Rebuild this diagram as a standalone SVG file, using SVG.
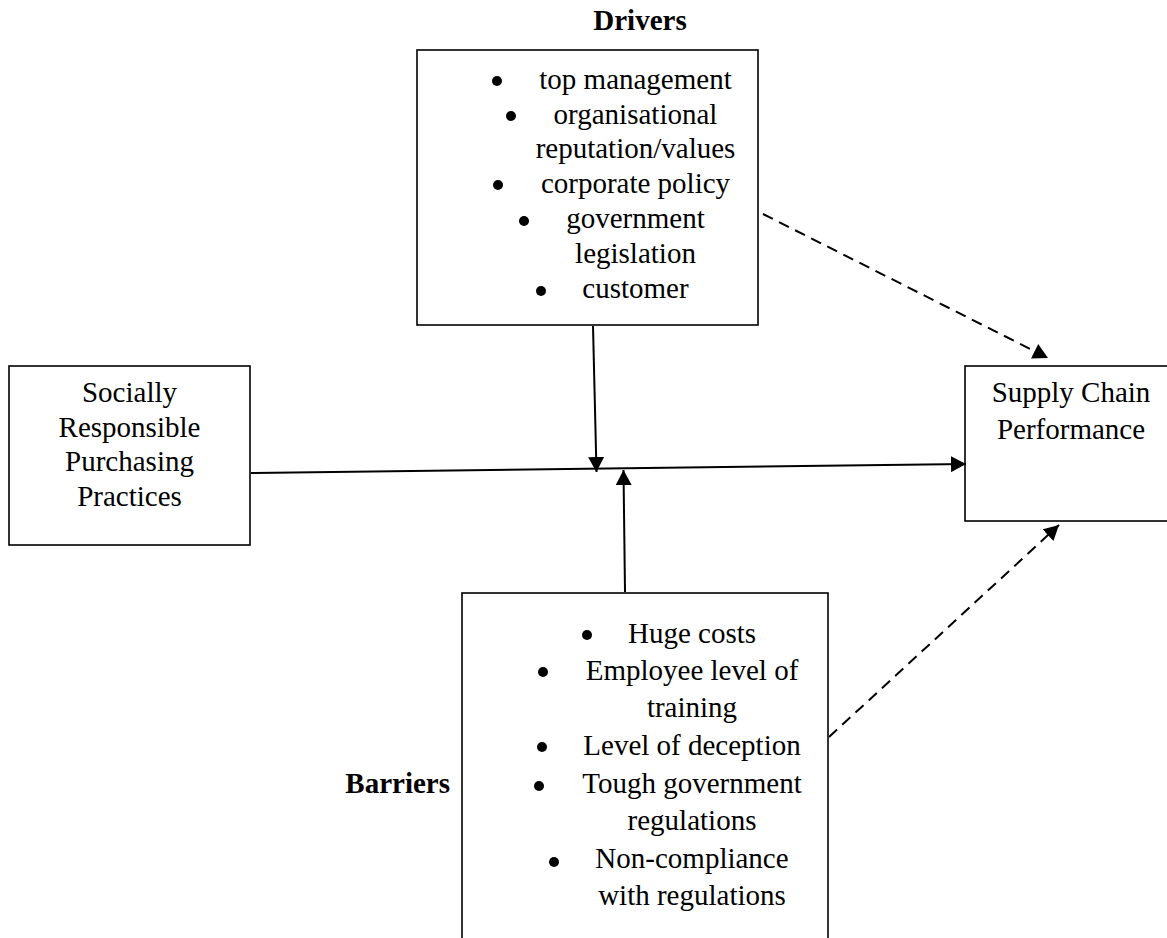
<svg xmlns="http://www.w3.org/2000/svg" width="1167" height="938" viewBox="0 0 1167 938">
<style>
.box{fill:#fff;stroke:#000;stroke-width:1.6}
.t{font-family:"Liberation Serif","Times New Roman",serif;font-size:29px;fill:#000;text-anchor:middle}
.b{font-family:"Liberation Serif","Times New Roman",serif;font-size:29px;font-weight:bold;fill:#000}
.ln{stroke:#000;stroke-width:2;fill:none}
.dash{stroke-dasharray:11,7}
.dot{fill:#000}
</style>
<defs>
<marker id="ah" markerUnits="userSpaceOnUse" markerWidth="16" markerHeight="16" refX="15" refY="8" orient="auto">
<polygon points="0,0 15,8 0,16" fill="#000"/>
</marker>
</defs>
<rect width="1167" height="938" fill="#fff"/>

<g id="drivers">
<text class="b" x="640" y="30" text-anchor="middle">Drivers</text>
<rect class="box" x="417" y="50" width="341" height="275"/>
<circle class="dot" cx="497" cy="81" r="5"/>
<text class="t" x="635.5" y="89">top management</text>
<circle class="dot" cx="511" cy="116" r="5"/>
<text class="t" x="635.5" y="124">organisational</text>
<text class="t" x="635.5" y="158">reputation/values</text>
<circle class="dot" cx="498" cy="185" r="5"/>
<text class="t" x="635.5" y="193">corporate policy</text>
<circle class="dot" cx="524" cy="221" r="5"/>
<text class="t" x="635.5" y="228">government</text>
<text class="t" x="635.5" y="263">legislation</text>
<circle class="dot" cx="541" cy="291" r="5"/>
<text class="t" x="635.5" y="298">customer</text>
</g>

<g id="srpp">
<rect class="box" x="9" y="366" width="241" height="179"/>
<text class="t" x="129.5" y="402">Socially</text>
<text class="t" x="129.5" y="437">Responsible</text>
<text class="t" x="129.5" y="471">Purchasing</text>
<text class="t" x="129.5" y="506">Practices</text>
</g>

<g id="scp">
<rect class="box" x="965" y="366" width="230" height="155"/>
<text class="t" x="1071" y="402">Supply Chain</text>
<text class="t" x="1071" y="439">Performance</text>
</g>

<g id="barriers">
<text class="b" x="450" y="793" text-anchor="end">Barriers</text>
<rect class="box" x="462" y="593" width="366" height="380"/>
<circle class="dot" cx="587" cy="635" r="5"/>
<text class="t" x="692" y="643">Huge costs</text>
<circle class="dot" cx="543" cy="672" r="5"/>
<text class="t" x="692" y="680">Employee level of</text>
<text class="t" x="692" y="717">training</text>
<circle class="dot" cx="542" cy="747" r="5"/>
<text class="t" x="692" y="755">Level of deception</text>
<circle class="dot" cx="539" cy="786" r="5"/>
<text class="t" x="692" y="793">Tough government</text>
<text class="t" x="692" y="830">regulations</text>
<circle class="dot" cx="554" cy="862" r="5"/>
<text class="t" x="692" y="868">Non-compliance</text>
<text class="t" x="692" y="905">with regulations</text>
</g>

<g id="connectors">
<line class="ln" x1="251" y1="473" x2="966" y2="464" marker-end="url(#ah)"/>
<line class="ln" x1="593" y1="326" x2="596.5" y2="472" marker-end="url(#ah)"/>
<line class="ln" x1="625" y1="592" x2="623.5" y2="470" marker-end="url(#ah)"/>
<line class="ln dash" x1="763" y1="214" x2="1048" y2="358" marker-end="url(#ah)"/>
<line class="ln dash" x1="829" y1="737" x2="1059" y2="525" marker-end="url(#ah)"/>
</g>
</svg>
